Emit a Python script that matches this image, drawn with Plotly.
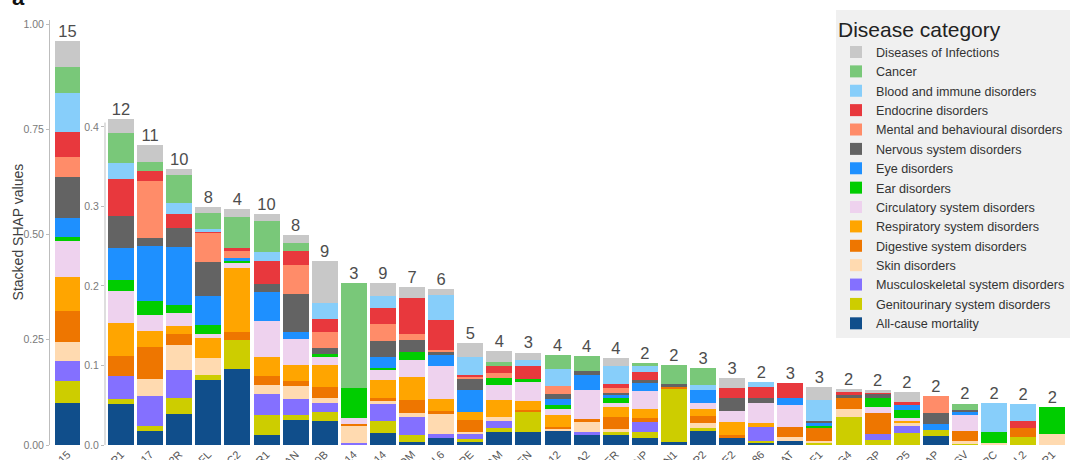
import plotly.graph_objects as go

W, H = 1080, 460

# bar labels (only the visible tail of each name) and number of categories shown above bars
proteins = ['15', 'P1', '17', '2R', 'FL', 'C2', 'R1', 'AN', '0B', '14', '14', 'DM', 'L6',
            'PE', 'AM', 'EN', '12', 'A2', 'ER', 'NP', 'N1', 'P2', 'E2', '86', 'AT', 'F1',
            'G4', 'BP', 'P5', 'AP', 'SV', 'RC', 'L2', 'P1']
n_categories = [15, 12, 11, 10, 8, 4, 10, 8, 9, 3, 9, 7, 6, 5, 4, 3, 4, 4, 4, 2, 2,
                3, 3, 2, 3, 3, 2, 2, 2, 2, 2, 2, 2, 2]

# stacked SHAP values per disease category (first bar is drawn on the 0-1 axis)
all_cause_mortality = [0.099, 0.0514, 0.018, 0.0389, 0.0815, 0.0962, 0.0125, 0.0313, 0.0305, 0, 0.0154,
                       0.0041, 0.0092, 0.005, 0.0159, 0.0167, 0.0188, 0.0125, 0.0125, 0.0092, 0.0041,
                       0.0176, 0.0092, 0.0034, 0.005, 0, 0, 0, 0, 0.0113, 0, 0, 0, 0]
genitourinary = [0.054, 0.0059, 0.0063, 0.0204, 0.0071, 0.0355, 0.025, 0.0063, 0.0113, 0, 0.0147,
                 0.0084, 0, 0.0021, 0.005, 0.0243, 0, 0, 0.0054, 0.0068, 0.0673,
                 0.0034, 0, 0.0017, 0, 0.002, 0.0355, 0.0063, 0.0154, 0.0075, 0.0025, 0, 0.0104, 0]
musculoskeletal = [0.046, 0.0296, 0.037, 0.0347, 0, 0, 0.0263, 0.0197, 0.0113, 0.002, 0.0209,
                   0.0222, 0.0046, 0.0075, 0.0095, 0, 0, 0.0034, 0, 0.0125, 0,
                   0, 0, 0.0172, 0, 0, 0, 0.0075, 0.0084, 0, 0, 0, 0, 0]
skin = [0.046, 0, 0.022, 0.0313, 0.0208, 0, 0.0113, 0.0167, 0.0063, 0.023, 0.0054,
        0.005, 0.0247, 0.002, 0.005, 0, 0.0021, 0.0145, 0.0018, 0, 0,
        0.007, 0, 0, 0.0046, 0.003, 0.0093, 0, 0.0041, 0, 0.0025, 0.0029, 0, 0.0138]
digestive = [0.073, 0.025, 0.0405, 0.0142, 0, 0.0104, 0.0117, 0.0066, 0.0138, 0.002, 0.0021,
             0.0167, 0.0041, 0.0147, 0, 0.0029, 0.002, 0.0018, 0.0158, 0.005, 0.0025,
             0.0084, 0.0034, 0, 0.0133, 0.0159, 0.0138, 0.026, 0, 0, 0.0125, 0, 0.0113, 0]
respiratory = [0.081, 0.0419, 0.02, 0.01, 0.0256, 0.0808, 0.0238, 0.0206, 0.0272, 0, 0.0229,
               0.0285, 0.0147, 0.0097, 0.0209, 0.0113, 0.0147, 0, 0.0125, 0.0113, 0,
               0.0084, 0.0167, 0.0058, 0, 0, 0, 0, 0.0034, 0, 0, 0, 0, 0]
circulatory = [0.085, 0.0393, 0.0197, 0.0168, 0.0041, 0.0058, 0.0451, 0.0326, 0.0097, 0.0066, 0.0138,
               0.0226, 0.0421, 0, 0.0197, 0.0242, 0.0071, 0.0367, 0.005, 0.0233, 0,
               0.0083, 0.0138, 0.0243, 0.0272, 0, 0, 0.0083, 0.0021, 0, 0.02, 0, 0, 0]
ear = [0.011, 0.015, 0.018, 0.0095, 0.0113, 0.0033, 0, 0, 0.0041, 0.0381, 0.0012,
       0.0092, 0, 0, 0.0088, 0.0034, 0.0054, 0, 0.0055, 0, 0,
       0, 0, 0, 0, 0.0031, 0, 0.0105, 0.0104, 0, 0, 0.0138, 0, 0.0335]
eye = [0.044, 0.0397, 0.069, 0.0727, 0.0376, 0.0033, 0.0364, 0.0083, 0, 0, 0.0142,
       0, 0.0134, 0.0288, 0, 0, 0.0075, 0.0188, 0.0041, 0.0113, 0,
       0.0159, 0, 0, 0.0092, 0.0031, 0, 0, 0.0063, 0.0071, 0.0035, 0, 0, 0]
nervous = [0.098, 0.0396, 0.0097, 0.025, 0.0418, 0, 0.0105, 0.0481, 0.0084, 0, 0.0197,
           0.0159, 0.0054, 0.0129, 0, 0, 0.0063, 0.0054, 0.0034, 0.0021, 0.0025,
           0, 0.0163, 0.0063, 0, 0.0033, 0.0041, 0.005, 0, 0.0138, 0.0036, 0, 0, 0]
mental = [0.047, 0, 0.072, 0, 0.0364, 0.0095, 0, 0.0356, 0.0196, 0, 0.0222,
          0.0066, 0.0018, 0.0029, 0.0058, 0, 0.01, 0, 0.0063, 0, 0,
          0, 0, 0, 0, 0, 0, 0, 0, 0.0221, 0, 0, 0, 0]
endocrine = [0.06, 0.0469, 0.0125, 0.0168, 0.0033, 0.0025, 0.0291, 0.018, 0.0168, 0, 0.0201,
             0.046, 0.0376, 0.003, 0.0084, 0.0167, 0, 0, 0.0041, 0.0104, 0,
             0, 0.0118, 0.0138, 0.0181, 0, 0.0034, 0.0033, 0.0041, 0, 0, 0, 0.0088, 0]
blood_immune = [0.092, 0.02, 0, 0.0145, 0.0017, 0, 0.0113, 0, 0.0196, 0, 0.0145,
                0, 0.0305, 0.0221, 0, 0.008, 0.0213, 0, 0.0229, 0.0075, 0,
                0.0063, 0, 0.0063, 0, 0.0268, 0, 0, 0, 0, 0, 0.0356, 0.0209, 0]
cancer = [0.062, 0.0384, 0.0117, 0.0347, 0.0208, 0.0397, 0.0389, 0.0104, 0, 0.1324, 0,
          0, 0, 0, 0.0054, 0, 0.0184, 0.0184, 0, 0.0038, 0.0238,
          0.0217, 0, 0, 0, 0, 0, 0, 0, 0, 0.0075, 0, 0, 0]
infections = [0.062, 0.0168, 0.021, 0.0079, 0.0075, 0.0097, 0.0084, 0.01, 0.0527, 0, 0.0163,
              0.0133, 0.0084, 0.0176, 0.0134, 0.0088, 0, 0, 0.01, 0, 0,
              0, 0.0125, 0, 0, 0.0158, 0.0038, 0.0021, 0.0125, 0, 0, 0, 0, 0]

# bottom of the stack first
series = [
    ('All-cause mortality', all_cause_mortality, '#104E8B'),
    ('Genitourinary system disorders', genitourinary, '#CDCD00'),
    ('Musculoskeletal system disorders', musculoskeletal, '#8470FF'),
    ('Skin disorders', skin, '#FFDAB0'),
    ('Digestive system disorders', digestive, '#EE7600'),
    ('Respiratory system disorders', respiratory, '#FFA500'),
    ('Circulatory system disorders', circulatory, '#EED2EE'),
    ('Ear disorders', ear, '#00CD00'),
    ('Eye disorders', eye, '#1E90FF'),
    ('Nervous system disorders', nervous, '#636363'),
    ('Mental and behavioural disorders', mental, '#FF8C69'),
    ('Endocrine disorders', endocrine, '#E8383D'),
    ('Blood and immune disorders', blood_immune, '#87CEFA'),
    ('Cancer', cancer, '#79C879'),
    ('Diseases of Infections', infections, '#C8C8C8'),
]

FONT = 'Liberation Sans, Arial, sans-serif'
AXIS_GREY = '#bdbdbd'
inset_x = list(range(len(proteins) - 1))

fig = go.Figure()
for name, vals, col in series:
    fig.add_trace(go.Bar(x=[0], y=vals[:1], name=name, marker=dict(color=col, line=dict(width=0)),
                         legendgroup=name, showlegend=False, cliponaxis=False,
                         xaxis='x', yaxis='y'))
    fig.add_trace(go.Bar(x=inset_x, y=vals[1:], name=name, marker=dict(color=col, line=dict(width=0)),
                         legendgroup=name, showlegend=True, cliponaxis=False,
                         xaxis='x2', yaxis='y2'))

# category counts written above each stack
totals = [sum(s[1][i] for s in series) for i in range(len(proteins))]
count_font = dict(size=16.5, color='#4d4d4d', family=FONT)
fig.add_trace(go.Scatter(x=[0], y=totals[:1], mode='text', text=[str(n) for n in n_categories[:1]],
                         textposition='top center', textfont=count_font, cliponaxis=False,
                         showlegend=False, hoverinfo='skip', xaxis='x', yaxis='y'))
fig.add_trace(go.Scatter(x=inset_x, y=totals[1:], mode='text', text=[str(n) for n in n_categories[1:]],
                         textposition='top center', textfont=count_font, cliponaxis=False,
                         showlegend=False, hoverinfo='skip', xaxis='x2', yaxis='y2'))

yax = dict(ticks='outside', ticklen=3, tickcolor=AXIS_GREY, tickfont=dict(size=10.5, color='#7a7a7a'),
           showgrid=False, zeroline=False, automargin=False)
xax = dict(showline=False, ticks='', showgrid=False, zeroline=False, tickangle=-45,
           tickfont=dict(size=11, color='#555555'), automargin=False)

fig.update_layout(
    width=W, height=H, autosize=False,
    margin=dict(l=0, r=0, t=0, b=0),
    barmode='stack', bargap=0.107,
    plot_bgcolor='white', paper_bgcolor='white',
    font=dict(family=FONT, color='#333333'),
    xaxis=dict(xax, domain=[50 / W, 85 / W], range=[-0.625, 0.625], anchor='y',
               tickmode='array', tickvals=[0], ticktext=proteins[:1]),
    yaxis=dict(yax, domain=[15 / H, 440.2 / H], range=[0, 1.01], anchor='x',
               showline=True, linecolor=AXIS_GREY, linewidth=1,
               tickmode='array', tickvals=[0, 0.25, 0.5, 0.75, 1.0],
               ticktext=['0.00', '0.25', '0.50', '0.75', '1.00']),
    xaxis2=dict(xax, domain=[105 / W, 1069.7 / W], range=[-0.55, 32.6], anchor='y2',
                tickmode='array', tickvals=inset_x, ticktext=proteins[1:]),
    # the inset range leaves room for the tallest stack and its label; the axis line is drawn as a shape
    yaxis2=dict(yax, domain=[15 / H, 345.4 / H], range=[0, 0.4155], anchor='x2', showline=False,
                tickmode='array', tickvals=[0, 0.1, 0.2, 0.3, 0.4],
                ticktext=['0.0', '0.1', '0.2', '0.3', '0.4']),
    shapes=[dict(type='line', xref='x2 domain', yref='y2', x0=0, x1=0, y0=0, y1=0.4055,
                 line=dict(color=AXIS_GREY, width=1), layer='above')],
    legend=dict(x=836 / W, y=1 - 10 / H, xanchor='left', yanchor='top',
                bgcolor='#f0f0f0', traceorder='reversed',
                font=dict(size=12.6, color='#333333'),
                title=dict(text='Disease category', font=dict(size=21, color='#222222'))),
    annotations=[
        dict(x=10 / W, y=0.973, xref='paper', yref='paper', text='<b>a</b>',
             showarrow=False, xanchor='left', yanchor='bottom',
             font=dict(size=22, color='#111111', family=FONT)),
        dict(x=18 / W, y=0.5, xref='paper', yref='y domain', text='Stacked SHAP values',
             textangle=-90, showarrow=False, xanchor='center', yanchor='middle',
             font=dict(size=14, color='#404040', family=FONT)),
    ],
)

# the page's default body margin would shift the whole figure by 8px
fig.write_html('out.html', config={'displayModeBar': False},
               post_script="document.body.style.margin = '0';")
